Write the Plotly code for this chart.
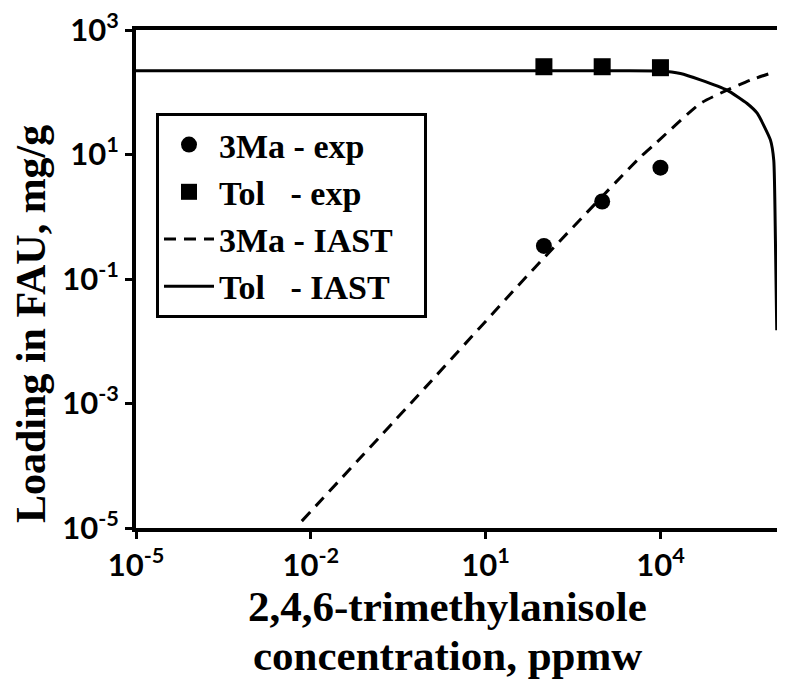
import plotly.graph_objects as go

# Experimental points
exp_x = [100, 1000, 10000]
ma_exp_y = [0.34, 1.76, 6.15]
tol_exp_y = [257, 257, 248]

# IAST curves
ma_iast_x = [0.0070, 0.918, 71, 4520, 7570, 48500, 139000, 350000, 933000]
ma_iast_y = [1.29e-5, 1.8e-3, 0.155, 9.1, 14, 66, 108, 157, 213]

tol_iast_x = [1e-5, 1000, 10000, 22000, 48500, 139000, 307000, 457000, 773000, 881000, 940000, 990000]
tol_iast_y = [221, 221, 219, 200, 158, 108, 66, 46, 17, 8, 0.42, 0.015]

x_tickvals = [1e-5, 1e-2, 1e1, 1e4]
x_ticktext = ["10<sup>-5</sup>", "10<sup>-2</sup>", "10<sup>1</sup>", "10<sup>4</sup>"]
y_tickvals = [1e-5, 1e-3, 1e-1, 1e1, 1e3]
y_ticktext = ["10<sup>-5</sup>", "10<sup>-3</sup>", "10<sup>-1</sup>", "10<sup>1</sup>", "10<sup>3</sup>"]

legend_names = ["3Ma\u00a0-\u00a0exp", "Tol\u00a0\u00a0\u00a0-\u00a0exp",
                "3Ma\u00a0-\u00a0IAST\u00a0\u00a0\u00a0", "Tol\u00a0\u00a0\u00a0-\u00a0IAST\u00a0\u00a0\u00a0"]

serif = "Liberation Serif"
sans = "Lato"

# page has an 8px body margin; plot area kept at page x 136..777, y 30..528
PX0, PW, PY1, PH = 136, 641, 528, 498

fig = go.Figure()
fig.add_trace(go.Scatter(x=exp_x, y=ma_exp_y, mode="markers", name=legend_names[0],
                         marker=dict(symbol="circle", size=16, color="black")))
fig.add_trace(go.Scatter(x=exp_x, y=tol_exp_y, mode="markers", name=legend_names[1],
                         marker=dict(symbol="square", size=17, color="black")))
fig.add_trace(go.Scatter(x=ma_iast_x, y=ma_iast_y, mode="lines", name=legend_names[2],
                         line=dict(color="black", width=3, dash="12px,8px", shape="spline", smoothing=0.6)))
fig.add_trace(go.Scatter(x=tol_iast_x, y=tol_iast_y, mode="lines", name=legend_names[3],
                         line=dict(color="black", width=3, shape="spline", smoothing=0.5)))

fig.update_layout(
    width=781, height=674,
    margin=dict(l=128, r=12, t=22, b=154, autoexpand=False),
    plot_bgcolor="white", paper_bgcolor="white",
    showlegend=True,
    legend=dict(x=(156 - PX0) / PW, y=(PY1 - 113) / PH, xanchor="left", yanchor="top",
                bordercolor="black", borderwidth=3, bgcolor="white",
                font=dict(family=serif, size=34, color="black", weight="bold"),
                itemwidth=50, tracegroupgap=0),
    annotations=[
        dict(text="Loading in FAU, mg/g", xref="paper", yref="paper",
             x=(31 - PX0) / PW, y=(PY1 - 324) / PH, textangle=-90, showarrow=False,
             font=dict(family=serif, size=42, color="black", weight="bold"),
             xanchor="center", yanchor="middle"),
        dict(text="2,4,6-trimethylanisole", xref="paper", yref="paper",
             x=(447 - PX0) / PW, y=(PY1 - 606) / PH, showarrow=False,
             font=dict(family=serif, size=43, color="black", weight="bold"),
             xanchor="center", yanchor="middle"),
        dict(text="concentration, ppmw", xref="paper", yref="paper",
             x=(447 - PX0) / PW, y=(PY1 - 655) / PH, showarrow=False,
             font=dict(family=serif, size=43, color="black", weight="bold"),
             xanchor="center", yanchor="middle"),
    ],
)
fig.update_xaxes(type="log", range=[-5, 6], tickvals=x_tickvals, ticktext=x_ticktext,
                 showline=True, linecolor="black", linewidth=4, mirror=True,
                 ticks="outside", ticklen=7, tickwidth=3, tickcolor="black",
                 showgrid=False, zeroline=False, ticklabeloverflow="allow", automargin=False,
                 tickfont=dict(family=sans, size=31, color="black", weight="bold"))
fig.update_yaxes(type="log", range=[-5, 3], tickvals=y_tickvals, ticktext=y_ticktext,
                 showline=True, linecolor="black", linewidth=4, mirror=False,
                 ticks="outside", ticklen=7, tickwidth=3, tickcolor="black",
                 showgrid=False, zeroline=False, ticklabeloverflow="allow", automargin=False,
                 tickfont=dict(family=sans, size=31, color="black", weight="bold"))

fig.write_html("out.html")
